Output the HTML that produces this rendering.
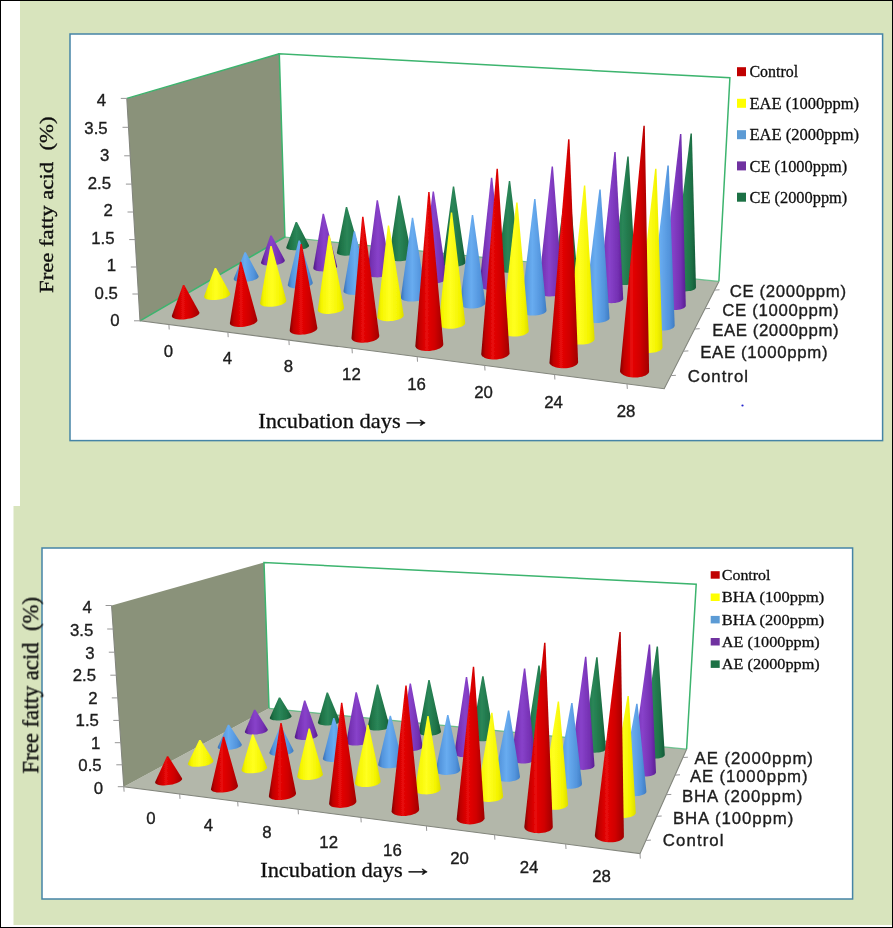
<!DOCTYPE html>
<html><head><meta charset="utf-8"><title>Free fatty acid charts</title>
<style>
html,body{margin:0;padding:0;background:#fff;}
svg{display:block}
.cal{font-family:"Liberation Sans",sans-serif;font-size:16.8px;fill:#1c1c1c;stroke:#1c1c1c;stroke-width:0.35px}
.tim{font-family:"Liberation Serif",serif;fill:#111;stroke:#111;stroke-width:0.3px}
</style></head><body>
<svg width="893" height="928" viewBox="0 0 893 928">
<defs><linearGradient id="gred" x1="0" y1="0" x2="1" y2="0"><stop offset="0" stop-color="#800000"/><stop offset="0.14" stop-color="#c00000"/><stop offset="0.4" stop-color="#e80808"/><stop offset="0.7" stop-color="#d00000"/><stop offset="1" stop-color="#a00000"/></linearGradient><linearGradient id="gyel" x1="0" y1="0" x2="1" y2="0"><stop offset="0" stop-color="#d8d800"/><stop offset="0.15" stop-color="#f6f600"/><stop offset="0.45" stop-color="#ffff20"/><stop offset="0.8" stop-color="#f4f400"/><stop offset="1" stop-color="#dcdc00"/></linearGradient><linearGradient id="gblu" x1="0" y1="0" x2="1" y2="0"><stop offset="0" stop-color="#3a70b4"/><stop offset="0.16" stop-color="#5394dc"/><stop offset="0.45" stop-color="#68acf0"/><stop offset="0.8" stop-color="#5394dc"/><stop offset="1" stop-color="#3f7cc2"/></linearGradient><linearGradient id="gpur" x1="0" y1="0" x2="1" y2="0"><stop offset="0" stop-color="#4c1880"/><stop offset="0.16" stop-color="#7430b2"/><stop offset="0.45" stop-color="#8842ca"/><stop offset="0.8" stop-color="#7430b2"/><stop offset="1" stop-color="#5a2092"/></linearGradient><linearGradient id="ggrn" x1="0" y1="0" x2="1" y2="0"><stop offset="0" stop-color="#0f5030"/><stop offset="0.16" stop-color="#1e7246"/><stop offset="0.45" stop-color="#2a8658"/><stop offset="0.8" stop-color="#1e7246"/><stop offset="1" stop-color="#145a38"/></linearGradient></defs>
<filter id="soft" x="0" y="0" width="100%" height="100%" filterUnits="userSpaceOnUse"><feGaussianBlur stdDeviation="0.45"/></filter>
<rect x="0" y="0" width="893" height="928" fill="#000"/>
<rect x="1" y="1" width="891" height="926" fill="#fff"/>
<rect x="20" y="1" width="872" height="506" fill="#d8e4bd"/>
<rect x="13.5" y="506" width="878.5" height="419" fill="#d8e4bd"/>
<rect x="70" y="34" width="812.6" height="406.6" fill="#fff" stroke="#4584a6" stroke-width="1.5"/>
<rect x="42" y="548" width="810.6" height="351" fill="#fff" stroke="#4584a6" stroke-width="1.5"/>
<g id="chart-top" filter="url(#soft)">
<polygon points="284.9,237.0 279.3,53.8 729.9,77.8 718.9,281.4" fill="#fff"/>
<polygon points="140.0,320.8 664.2,388.7 718.9,281.4 284.9,237.0" fill="#b3b7aa"/>
<polygon points="140.0,320.8 126.8,98.4 279.3,53.8 284.9,237.0" fill="#8a927a"/>
<polyline points="126.8,98.4 279.3,53.8" fill="none" stroke="#3cb46e" stroke-width="1.5"/>
<polyline points="140.0,320.8 284.9,237.0 279.3,53.8 729.9,77.8 718.9,281.4" fill="none" stroke="#3cb46e" stroke-width="1.5"/>
<polyline points="284.9,237.0 718.9,281.4" fill="none" stroke="#3cb46e" stroke-width="1.2" opacity="0.7"/>
<polyline points="126.8,98.4 140.0,320.8 664.2,388.7 718.9,281.4" fill="none" stroke="#83867d" stroke-width="1.1"/>
<line x1="134.0" y1="320.8" x2="140.0" y2="320.8" stroke="#969696" stroke-width="1"/>
<text class="cal" text-anchor="end" transform="translate(119.6,326.4) scale(1,1)">0</text>
<line x1="132.4" y1="294.0" x2="138.4" y2="294.0" stroke="#969696" stroke-width="1"/>
<text class="cal" text-anchor="end" transform="translate(117.9,298.9) scale(1,1)">0.5</text>
<line x1="130.8" y1="267.0" x2="136.8" y2="267.0" stroke="#969696" stroke-width="1"/>
<text class="cal" text-anchor="end" transform="translate(116.2,271.3) scale(1,1)">1</text>
<line x1="129.2" y1="239.6" x2="135.2" y2="239.6" stroke="#969696" stroke-width="1"/>
<text class="cal" text-anchor="end" transform="translate(114.5,243.8) scale(1,1)">1.5</text>
<line x1="127.5" y1="212.0" x2="133.5" y2="212.0" stroke="#969696" stroke-width="1"/>
<text class="cal" text-anchor="end" transform="translate(112.8,216.3) scale(1,1)">2</text>
<line x1="125.9" y1="184.1" x2="131.9" y2="184.1" stroke="#969696" stroke-width="1"/>
<text class="cal" text-anchor="end" transform="translate(111.1,188.7) scale(1,1)">2.5</text>
<line x1="124.2" y1="155.8" x2="130.2" y2="155.8" stroke="#969696" stroke-width="1"/>
<text class="cal" text-anchor="end" transform="translate(109.4,161.2) scale(1,1)">3</text>
<line x1="122.5" y1="127.3" x2="128.5" y2="127.3" stroke="#969696" stroke-width="1"/>
<text class="cal" text-anchor="end" transform="translate(107.7,133.6) scale(1,1)">3.5</text>
<line x1="120.8" y1="98.4" x2="126.8" y2="98.4" stroke="#969696" stroke-width="1"/>
<text class="cal" text-anchor="end" transform="translate(106.0,106.1) scale(1,1)">4</text>
<line x1="168.9" y1="324.5" x2="169.2" y2="329.5" stroke="#969696" stroke-width="1"/>
<line x1="227.9" y1="332.2" x2="228.2" y2="337.2" stroke="#969696" stroke-width="1"/>
<line x1="288.9" y1="340.1" x2="289.2" y2="345.1" stroke="#969696" stroke-width="1"/>
<line x1="352.0" y1="348.3" x2="352.3" y2="353.3" stroke="#969696" stroke-width="1"/>
<line x1="417.2" y1="356.7" x2="417.5" y2="361.7" stroke="#969696" stroke-width="1"/>
<line x1="484.7" y1="365.5" x2="485.0" y2="370.5" stroke="#969696" stroke-width="1"/>
<line x1="554.6" y1="374.5" x2="554.9" y2="379.5" stroke="#969696" stroke-width="1"/>
<line x1="627.0" y1="383.9" x2="627.3" y2="388.9" stroke="#969696" stroke-width="1"/>
<line x1="670.9" y1="375.6" x2="675.9" y2="375.3" stroke="#969696" stroke-width="1"/>
<line x1="683.4" y1="351.2" x2="688.4" y2="350.9" stroke="#969696" stroke-width="1"/>
<line x1="694.7" y1="329.0" x2="699.7" y2="328.7" stroke="#969696" stroke-width="1"/>
<line x1="705.0" y1="308.7" x2="710.0" y2="308.4" stroke="#969696" stroke-width="1"/>
<line x1="714.5" y1="290.1" x2="719.5" y2="289.8" stroke="#969696" stroke-width="1"/>
<text class="cal" text-anchor="middle" transform="translate(168.5,357.4) scale(1,1)">0</text>
<text class="cal" text-anchor="middle" transform="translate(227.4,363.9) scale(1,1)">4</text>
<text class="cal" text-anchor="middle" transform="translate(288.5,372.0) scale(1,1)">8</text>
<text class="cal" text-anchor="middle" transform="translate(351.4,380.2) scale(1,1)">12</text>
<text class="cal" text-anchor="middle" transform="translate(416.6,389.5) scale(1,1)">16</text>
<text class="cal" text-anchor="middle" transform="translate(483.6,398.2) scale(1,1)">20</text>
<text class="cal" text-anchor="middle" transform="translate(553.5,407.5) scale(1,1)">24</text>
<text class="cal" text-anchor="middle" transform="translate(626.0,417.4) scale(1,1)">28</text>
<text class="cal" transform="translate(687.8,381.6) scale(1,1)" textLength="60.2" lengthAdjust="spacing">Control</text>
<text class="cal" transform="translate(700.2,358.2) scale(1,1)" textLength="127.3" lengthAdjust="spacing">EAE (1000ppm)</text>
<text class="cal" transform="translate(712.2,336.0) scale(1,1)" textLength="126.4" lengthAdjust="spacing">EAE (2000ppm)</text>
<text class="cal" transform="translate(722.3,315.8) scale(1,1)" textLength="116.3" lengthAdjust="spacing">CE (1000ppm)</text>
<text class="cal" transform="translate(729.7,296.6) scale(1,1)" textLength="116.3" lengthAdjust="spacing">CE (2000ppm)</text>
<path d="M286.3 247.3 L295.6 222.1 L297.0 222.1 L309.0 245.3 L309.0 245.9 L308.8 246.5 L308.3 247.0 L307.5 247.6 L306.5 248.2 L305.2 248.7 L303.8 249.1 L302.2 249.5 L300.5 249.8 L298.7 250.1 L296.9 250.2 L295.1 250.3 L293.4 250.3 L291.8 250.1 L290.3 249.9 L289.0 249.6 L288.0 249.3 L287.1 248.8 L286.6 248.4 L286.3 247.8Z" fill="url(#ggrn)"/>
<path d="M336.9 252.6 L345.8 207.0 L347.2 207.0 L359.7 250.6 L359.8 251.2 L359.6 251.8 L359.2 252.3 L358.5 252.9 L357.5 253.5 L356.3 254.0 L354.9 254.5 L353.4 254.9 L351.7 255.2 L349.9 255.5 L348.1 255.6 L346.3 255.7 L344.5 255.7 L342.9 255.5 L341.4 255.3 L340.0 255.0 L338.9 254.6 L338.0 254.2 L337.4 253.7 L337.0 253.2Z" fill="url(#ggrn)"/>
<path d="M388.9 258.0 L398.3 195.4 L399.7 195.4 L411.9 256.6 L411.9 257.2 L411.5 257.8 L410.8 258.4 L409.9 259.0 L408.8 259.5 L407.4 260.0 L405.9 260.4 L404.3 260.7 L402.5 261.0 L400.7 261.2 L398.9 261.2 L397.1 261.2 L395.4 261.1 L393.8 260.9 L392.4 260.5 L391.2 260.2 L390.3 259.7 L389.5 259.2 L389.1 258.6Z" fill="url(#ggrn)"/>
<path d="M442.4 263.7 L442.5 263.0 L452.8 186.5 L454.2 186.5 L465.5 262.2 L465.5 262.8 L465.2 263.4 L464.7 264.0 L463.8 264.6 L462.7 265.2 L461.4 265.6 L460.0 266.1 L458.3 266.4 L456.6 266.7 L454.8 266.9 L452.9 266.9 L451.1 266.9 L449.4 266.8 L447.8 266.5 L446.3 266.2 L445.0 265.8 L444.0 265.4 L443.2 264.8 L442.7 264.3Z" fill="url(#ggrn)"/>
<path d="M497.4 268.8 L508.8 181.1 L510.2 181.1 L520.7 268.5 L520.5 269.2 L520.0 269.8 L519.2 270.4 L518.2 271.0 L517.0 271.5 L515.5 271.9 L513.9 272.3 L512.2 272.5 L510.3 272.7 L508.5 272.8 L506.7 272.8 L504.9 272.6 L503.2 272.4 L501.7 272.1 L500.3 271.7 L499.2 271.2 L498.3 270.6 L497.7 270.0 L497.4 269.4Z" fill="url(#ggrn)"/>
<path d="M553.8 274.7 L567.3 175.6 L568.7 175.6 L577.4 274.4 L577.3 275.1 L576.9 275.7 L576.2 276.4 L575.3 276.9 L574.1 277.5 L572.7 277.9 L571.1 278.3 L569.4 278.6 L567.5 278.7 L565.7 278.8 L563.8 278.8 L562.0 278.7 L560.3 278.4 L558.7 278.1 L557.2 277.7 L556.0 277.2 L555.1 276.6 L554.4 276.0 L553.9 275.4Z" fill="url(#ggrn)"/>
<path d="M611.9 280.8 L612.0 280.1 L627.3 156.5 L628.7 156.5 L635.8 280.5 L635.8 281.2 L635.5 281.9 L634.9 282.5 L634.0 283.1 L632.9 283.6 L631.5 284.1 L629.9 284.5 L628.2 284.8 L626.4 284.9 L624.5 285.0 L622.6 285.0 L620.8 284.9 L619.0 284.6 L617.3 284.3 L615.8 283.8 L614.5 283.3 L613.5 282.7 L612.7 282.1 L612.1 281.5Z" fill="url(#ggrn)"/>
<path d="M671.7 286.3 L690.5 133.4 L691.9 133.4 L696.0 287.5 L695.8 288.1 L695.3 288.8 L694.5 289.4 L693.4 290.0 L692.1 290.5 L690.5 290.9 L688.9 291.1 L687.0 291.3 L685.1 291.4 L683.2 291.4 L681.3 291.2 L679.4 291.0 L677.7 290.6 L676.1 290.2 L674.7 289.7 L673.6 289.1 L672.7 288.4 L672.0 287.7 L671.7 287.0Z" fill="url(#ggrn)"/>
<path d="M261.0 262.9 L261.1 262.3 L270.3 235.4 L271.7 235.4 L284.5 259.6 L284.8 260.2 L284.8 260.8 L284.5 261.4 L283.9 262.0 L283.1 262.7 L282.0 263.2 L280.7 263.8 L279.2 264.3 L277.5 264.7 L275.7 265.0 L273.8 265.3 L271.9 265.5 L270.1 265.5 L268.3 265.5 L266.6 265.4 L265.1 265.2 L263.8 264.9 L262.7 264.5 L261.8 264.0 L261.3 263.5Z" fill="url(#gpur)"/>
<path d="M313.3 268.0 L322.6 213.7 L324.0 213.7 L337.1 265.9 L337.2 266.5 L337.0 267.1 L336.5 267.8 L335.7 268.4 L334.7 269.0 L333.4 269.6 L332.0 270.1 L330.3 270.5 L328.5 270.9 L326.7 271.1 L324.8 271.3 L322.9 271.4 L321.1 271.3 L319.4 271.2 L317.8 271.0 L316.4 270.7 L315.3 270.3 L314.4 269.8 L313.7 269.2 L313.4 268.6Z" fill="url(#gpur)"/>
<path d="M367.1 273.9 L376.6 200.3 L378.0 200.3 L391.1 272.3 L391.0 273.0 L390.6 273.7 L389.9 274.3 L388.9 274.9 L387.7 275.5 L386.3 276.0 L384.7 276.5 L382.9 276.8 L381.1 277.1 L379.2 277.3 L377.3 277.4 L375.4 277.3 L373.7 277.2 L372.1 277.0 L370.6 276.6 L369.4 276.2 L368.4 275.7 L367.7 275.2 L367.3 274.6Z" fill="url(#gpur)"/>
<path d="M422.5 280.0 L422.5 279.3 L432.6 191.4 L434.0 191.4 L446.6 278.4 L446.6 279.0 L446.2 279.7 L445.6 280.4 L444.7 281.0 L443.5 281.6 L442.2 282.1 L440.6 282.6 L438.9 283.0 L437.0 283.3 L435.1 283.5 L433.2 283.5 L431.3 283.5 L429.5 283.4 L427.9 283.1 L426.4 282.8 L425.1 282.3 L424.0 281.8 L423.2 281.3 L422.7 280.6Z" fill="url(#gpur)"/>
<path d="M479.4 285.5 L490.9 177.8 L492.3 177.8 L503.7 284.6 L503.7 285.3 L503.5 285.9 L502.9 286.6 L502.1 287.3 L501.0 287.9 L499.7 288.5 L498.2 288.9 L496.5 289.3 L494.7 289.6 L492.8 289.8 L490.8 289.9 L488.9 289.9 L487.1 289.7 L485.3 289.5 L483.8 289.1 L482.4 288.7 L481.2 288.1 L480.3 287.6 L479.7 286.9 L479.4 286.2Z" fill="url(#gpur)"/>
<path d="M538.0 291.9 L551.6 166.6 L553.0 166.6 L562.6 291.7 L562.5 292.4 L562.0 293.1 L561.3 293.8 L560.2 294.4 L559.0 295.0 L557.5 295.4 L555.8 295.9 L554.0 296.2 L552.1 296.3 L550.2 296.4 L548.2 296.4 L546.3 296.2 L544.5 296.0 L542.9 295.6 L541.4 295.2 L540.2 294.6 L539.2 294.0 L538.5 293.4 L538.1 292.7Z" fill="url(#gpur)"/>
<path d="M598.3 298.6 L614.3 152.0 L615.7 152.0 L623.2 298.2 L623.2 299.0 L622.8 299.7 L622.2 300.4 L621.2 301.1 L620.0 301.7 L618.6 302.2 L617.0 302.6 L615.2 302.9 L613.3 303.1 L611.3 303.2 L609.3 303.1 L607.4 303.0 L605.5 302.7 L603.8 302.3 L602.3 301.9 L600.9 301.3 L599.8 300.7 L599.0 300.0 L598.5 299.3Z" fill="url(#gpur)"/>
<path d="M660.4 304.6 L680.0 134.1 L681.4 134.1 L685.8 305.8 L685.6 306.6 L685.0 307.3 L684.1 308.0 L683.0 308.6 L681.6 309.1 L680.0 309.5 L678.2 309.8 L676.3 310.0 L674.4 310.1 L672.3 310.1 L670.3 309.9 L668.4 309.7 L666.6 309.3 L665.0 308.8 L663.5 308.2 L662.3 307.6 L661.4 306.9 L660.8 306.1 L660.5 305.4Z" fill="url(#gpur)"/>
<path d="M233.7 279.2 L233.8 278.5 L244.5 252.2 L245.9 252.2 L258.4 275.7 L258.6 276.3 L258.6 276.9 L258.3 277.6 L257.6 278.3 L256.7 278.9 L255.5 279.6 L254.1 280.1 L252.5 280.7 L250.7 281.1 L248.8 281.5 L246.9 281.8 L244.9 282.0 L242.9 282.1 L241.1 282.0 L239.3 281.9 L237.8 281.6 L236.4 281.3 L235.3 280.9 L234.5 280.4 L234.0 279.8Z" fill="url(#gblu)"/>
<path d="M287.8 284.7 L298.5 240.6 L299.9 240.6 L312.7 282.4 L312.8 283.1 L312.5 283.8 L312.0 284.5 L311.1 285.1 L310.0 285.8 L308.7 286.4 L307.1 286.9 L305.3 287.4 L303.5 287.8 L301.5 288.1 L299.5 288.3 L297.6 288.4 L295.7 288.3 L293.9 288.2 L292.3 287.9 L290.9 287.6 L289.7 287.2 L288.8 286.6 L288.2 286.0 L287.8 285.4Z" fill="url(#gblu)"/>
<path d="M343.5 291.1 L353.6 231.2 L355.0 231.2 L368.5 288.7 L368.6 289.4 L368.4 290.1 L367.9 290.8 L367.2 291.5 L366.1 292.2 L364.8 292.8 L363.3 293.4 L361.6 293.9 L359.8 294.3 L357.8 294.6 L355.8 294.8 L353.9 294.9 L351.9 294.8 L350.1 294.7 L348.4 294.4 L347.0 294.1 L345.7 293.6 L344.7 293.1 L344.0 292.5 L343.6 291.8Z" fill="url(#gblu)"/>
<path d="M400.8 297.7 L411.8 217.8 L413.2 217.8 L426.1 295.9 L426.0 296.7 L425.6 297.4 L424.9 298.1 L423.9 298.8 L422.7 299.5 L421.3 300.1 L419.6 300.6 L417.8 301.0 L415.8 301.3 L413.9 301.5 L411.9 301.6 L409.9 301.5 L408.0 301.4 L406.3 301.1 L404.7 300.7 L403.4 300.3 L402.3 299.7 L401.5 299.1 L401.0 298.4Z" fill="url(#gblu)"/>
<path d="M459.9 304.5 L459.9 303.7 L471.8 215.1 L473.2 215.1 L485.3 302.7 L485.3 303.4 L485.0 304.2 L484.4 304.9 L483.5 305.6 L482.4 306.3 L481.0 306.9 L479.3 307.4 L477.6 307.9 L475.6 308.2 L473.7 308.4 L471.6 308.5 L469.6 308.4 L467.7 308.3 L465.9 308.0 L464.3 307.6 L462.9 307.1 L461.7 306.6 L460.8 305.9 L460.2 305.2Z" fill="url(#gblu)"/>
<path d="M520.7 310.7 L534.1 199.1 L535.5 199.1 L546.5 310.4 L546.3 311.2 L545.8 311.9 L545.0 312.7 L543.9 313.4 L542.5 314.0 L541.0 314.5 L539.2 315.0 L537.3 315.3 L535.3 315.5 L533.3 315.6 L531.3 315.6 L529.3 315.4 L527.4 315.1 L525.7 314.7 L524.2 314.2 L522.9 313.6 L521.9 313.0 L521.2 312.3 L520.8 311.5Z" fill="url(#gblu)"/>
<path d="M583.5 317.9 L599.3 189.4 L600.7 189.4 L609.5 317.6 L609.5 318.4 L609.1 319.2 L608.4 319.9 L607.4 320.6 L606.1 321.3 L604.6 321.8 L602.8 322.3 L601.0 322.6 L599.0 322.9 L596.9 322.9 L594.8 322.9 L592.8 322.7 L590.9 322.5 L589.1 322.0 L587.5 321.5 L586.1 320.9 L585.0 320.2 L584.2 319.5 L583.7 318.7Z" fill="url(#gblu)"/>
<path d="M648.2 325.3 L648.2 324.5 L667.4 165.5 L668.8 165.5 L674.7 325.8 L674.4 326.6 L673.8 327.4 L672.9 328.2 L671.7 328.8 L670.2 329.4 L668.5 329.9 L666.7 330.2 L664.7 330.4 L662.6 330.5 L660.5 330.5 L658.4 330.3 L656.4 330.0 L654.5 329.6 L652.8 329.1 L651.3 328.4 L650.1 327.7 L649.2 327.0 L648.5 326.2Z" fill="url(#gblu)"/>
<path d="M204.1 296.8 L204.2 296.1 L214.7 267.9 L216.1 267.9 L230.0 293.0 L230.3 293.7 L230.2 294.4 L229.8 295.1 L229.1 295.8 L228.1 296.6 L226.8 297.2 L225.3 297.9 L223.6 298.5 L221.7 299.0 L219.7 299.4 L217.6 299.7 L215.5 299.9 L213.5 300.0 L211.6 299.9 L209.8 299.8 L208.1 299.5 L206.8 299.2 L205.6 298.7 L204.8 298.1 L204.3 297.5Z" fill="url(#gyel)"/>
<path d="M260.1 303.6 L260.1 302.9 L270.3 246.1 L271.7 246.1 L286.3 300.3 L286.3 301.1 L286.0 301.8 L285.3 302.6 L284.4 303.3 L283.2 304.0 L281.7 304.7 L280.1 305.3 L278.2 305.8 L276.2 306.2 L274.2 306.5 L272.1 306.7 L270.1 306.8 L268.1 306.8 L266.2 306.6 L264.6 306.4 L263.1 306.0 L261.9 305.5 L261.0 304.9 L260.4 304.3Z" fill="url(#gyel)"/>
<path d="M317.8 309.8 L328.5 235.6 L329.9 235.6 L344.0 307.2 L344.1 308.0 L343.9 308.7 L343.3 309.5 L342.5 310.3 L341.4 311.0 L340.0 311.7 L338.3 312.3 L336.5 312.8 L334.6 313.3 L332.5 313.6 L330.5 313.8 L328.4 313.9 L326.4 313.9 L324.5 313.7 L322.7 313.4 L321.2 313.0 L319.9 312.5 L318.9 312.0 L318.2 311.3 L317.8 310.6Z" fill="url(#gyel)"/>
<path d="M377.3 317.0 L387.8 225.6 L389.2 225.6 L403.7 315.1 L403.6 315.9 L403.2 316.7 L402.4 317.5 L401.4 318.2 L400.0 318.9 L398.5 319.6 L396.7 320.1 L394.8 320.6 L392.8 320.9 L390.7 321.1 L388.6 321.2 L386.5 321.2 L384.6 321.0 L382.8 320.7 L381.2 320.3 L379.8 319.8 L378.7 319.2 L377.9 318.5 L377.4 317.8Z" fill="url(#gyel)"/>
<path d="M438.6 324.4 L438.7 323.6 L450.8 212.4 L452.2 212.4 L465.2 322.4 L465.2 323.2 L464.9 324.1 L464.2 324.9 L463.3 325.7 L462.0 326.4 L460.5 327.0 L458.8 327.6 L456.9 328.1 L454.9 328.4 L452.8 328.7 L450.7 328.7 L448.6 328.7 L446.6 328.5 L444.7 328.2 L443.1 327.8 L441.6 327.3 L440.4 326.7 L439.5 326.0 L438.9 325.2Z" fill="url(#gyel)"/>
<path d="M501.9 331.2 L516.2 202.4 L517.6 202.4 L528.8 330.8 L528.6 331.7 L528.1 332.5 L527.2 333.3 L526.0 334.1 L524.6 334.8 L522.9 335.4 L521.1 335.8 L519.1 336.2 L517.0 336.4 L514.9 336.5 L512.7 336.5 L510.7 336.3 L508.7 336.0 L507.0 335.6 L505.4 335.0 L504.1 334.4 L503.1 333.7 L502.4 332.9 L502.0 332.0Z" fill="url(#gyel)"/>
<path d="M567.3 339.1 L583.9 185.6 L585.3 185.6 L594.6 338.7 L594.5 339.6 L594.0 340.4 L593.3 341.3 L592.2 342.1 L590.8 342.8 L589.2 343.4 L587.4 343.9 L585.4 344.2 L583.3 344.5 L581.2 344.6 L579.0 344.5 L576.9 344.4 L574.9 344.0 L573.0 343.6 L571.4 343.0 L569.9 342.4 L568.8 341.6 L568.0 340.8 L567.4 339.9Z" fill="url(#gyel)"/>
<path d="M634.8 347.2 L634.8 346.3 L655.1 168.8 L656.5 168.8 L662.5 346.8 L662.5 347.7 L662.2 348.6 L661.5 349.5 L660.6 350.3 L659.3 351.0 L657.7 351.6 L656.0 352.2 L654.0 352.5 L651.9 352.8 L649.7 352.9 L647.5 352.9 L645.3 352.7 L643.2 352.3 L641.3 351.9 L639.5 351.3 L638.0 350.6 L636.7 349.8 L635.7 349.0 L635.1 348.1Z" fill="url(#gyel)"/>
<path d="M171.8 316.1 L172.0 315.3 L182.9 285.1 L184.3 285.1 L199.2 311.9 L199.4 312.6 L199.3 313.4 L198.8 314.2 L198.0 315.0 L196.9 315.8 L195.5 316.5 L193.9 317.2 L192.0 317.9 L190.0 318.4 L187.9 318.8 L185.7 319.2 L183.6 319.4 L181.4 319.5 L179.4 319.4 L177.5 319.3 L175.9 319.0 L174.5 318.6 L173.3 318.1 L172.5 317.5 L172.0 316.8Z" fill="url(#gred)"/>
<path d="M229.9 323.5 L229.9 322.7 L240.0 261.8 L241.4 261.8 L257.4 319.9 L257.4 320.7 L257.0 321.5 L256.3 322.3 L255.3 323.1 L254.0 323.9 L252.4 324.6 L250.6 325.3 L248.6 325.8 L246.5 326.3 L244.4 326.7 L242.2 326.9 L240.0 327.0 L238.0 326.9 L236.1 326.8 L234.3 326.5 L232.8 326.1 L231.6 325.5 L230.7 324.9 L230.1 324.2Z" fill="url(#gred)"/>
<path d="M289.7 330.3 L300.5 243.9 L301.9 243.9 L317.3 327.4 L317.4 328.2 L317.1 329.0 L316.5 329.9 L315.5 330.7 L314.3 331.5 L312.8 332.3 L311.1 333.0 L309.2 333.5 L307.1 334.0 L304.9 334.4 L302.7 334.6 L300.6 334.7 L298.5 334.7 L296.5 334.5 L294.7 334.2 L293.1 333.8 L291.8 333.2 L290.8 332.6 L290.1 331.9 L289.8 331.1Z" fill="url(#gred)"/>
<path d="M351.5 338.1 L362.1 216.7 L363.5 216.7 L379.3 336.0 L379.1 336.8 L378.6 337.7 L377.8 338.6 L376.7 339.4 L375.2 340.2 L373.6 340.9 L371.7 341.5 L369.6 342.0 L367.5 342.4 L365.3 342.6 L363.1 342.7 L361.0 342.7 L358.9 342.5 L357.1 342.2 L355.4 341.7 L354.0 341.2 L352.9 340.5 L352.1 339.8 L351.6 338.9Z" fill="url(#gred)"/>
<path d="M415.3 346.2 L428.2 192.0 L429.6 192.0 L443.3 344.0 L443.2 344.9 L442.9 345.8 L442.1 346.7 L441.1 347.6 L439.7 348.4 L438.1 349.1 L436.3 349.7 L434.3 350.2 L432.2 350.6 L430.0 350.9 L427.8 351.0 L425.6 350.9 L423.5 350.7 L421.5 350.4 L419.8 349.9 L418.3 349.4 L417.1 348.7 L416.2 347.9 L415.6 347.1Z" fill="url(#gred)"/>
<path d="M481.3 353.6 L496.5 168.8 L497.9 168.8 L509.5 353.2 L509.3 354.2 L508.7 355.1 L507.7 356.0 L506.5 356.8 L504.9 357.6 L503.2 358.2 L501.2 358.7 L499.1 359.1 L496.9 359.4 L494.6 359.5 L492.4 359.5 L490.3 359.3 L488.2 358.9 L486.4 358.5 L484.8 357.9 L483.5 357.1 L482.4 356.4 L481.7 355.5 L481.3 354.6Z" fill="url(#gred)"/>
<path d="M549.5 362.3 L568.1 139.3 L569.5 139.3 L578.1 361.9 L578.0 362.8 L577.5 363.8 L576.7 364.7 L575.5 365.6 L574.1 366.3 L572.3 367.0 L570.4 367.6 L568.3 368.0 L566.1 368.2 L563.9 368.3 L561.6 368.3 L559.4 368.1 L557.3 367.7 L555.3 367.3 L553.6 366.6 L552.2 365.9 L551.0 365.1 L550.1 364.2 L549.6 363.2Z" fill="url(#gred)"/>
<path d="M620.0 371.2 L620.1 370.2 L643.4 125.8 L644.8 125.8 L649.1 370.8 L649.1 371.8 L648.8 372.8 L648.0 373.7 L647.0 374.6 L645.6 375.4 L644.0 376.1 L642.1 376.7 L640.0 377.1 L637.8 377.4 L635.5 377.5 L633.2 377.5 L630.9 377.2 L628.8 376.9 L626.7 376.4 L624.9 375.7 L623.3 375.0 L622.0 374.1 L621.0 373.2 L620.3 372.2Z" fill="url(#gred)"/>
<rect x="737.0" y="67.2" width="9" height="9" fill="#c00000"/>
<text class="tim" font-size="16" x="749.5" y="77.3" textLength="48.6" lengthAdjust="spacingAndGlyphs">Control</text>
<rect x="737.0" y="98.8" width="9" height="9" fill="#ffff00"/>
<text class="tim" font-size="16" x="749.5" y="108.9" textLength="109.5" lengthAdjust="spacingAndGlyphs">EAE (1000ppm)</text>
<rect x="737.0" y="130.2" width="9" height="9" fill="#5b9bd5"/>
<text class="tim" font-size="16" x="749.5" y="140.3" textLength="109.5" lengthAdjust="spacingAndGlyphs">EAE (2000ppm)</text>
<rect x="737.0" y="161.4" width="9" height="9" fill="#7030a0"/>
<text class="tim" font-size="16" x="749.5" y="171.5" textLength="97.8" lengthAdjust="spacingAndGlyphs">CE (1000ppm)</text>
<rect x="737.0" y="192.7" width="9" height="9" fill="#1f7145"/>
<text class="tim" font-size="16" x="749.5" y="202.8" textLength="97.8" lengthAdjust="spacingAndGlyphs">CE (2000ppm)</text>
<text class="tim" font-size="21" x="258.2" y="428" textLength="142.5" lengthAdjust="spacingAndGlyphs">Incubation days</text>
<text class="tim" font-size="21" transform="translate(400.5,426.8) scale(1.47,1.15)">→</text>
<text class="tim" font-size="18" transform="translate(53,293) rotate(-90)" textLength="176.5" lengthAdjust="spacingAndGlyphs">Free fatty acid&#160; (%)</text>
<circle cx="742.5" cy="405.5" r="1.1" fill="#2222cc"/>
</g>
<g id="chart-bottom" filter="url(#soft)">
<polygon points="269.0,708.3 264.0,562.5 696.2,584.2 686.6,749.2" fill="#fff"/>
<polygon points="123.8,786.7 640.0,853.6 686.6,749.2 269.0,708.3" fill="#b3b7aa"/>
<polygon points="123.8,786.7 111.6,605.5 264.0,562.5 269.0,708.3" fill="#8a927a"/>
<polyline points="269.0,708.3 264.0,562.5 696.2,584.2 686.6,749.2" fill="none" stroke="#3cb46e" stroke-width="1.5"/>
<polyline points="269.0,708.3 686.6,749.2" fill="none" stroke="#3cb46e" stroke-width="1.2" opacity="0.7"/>
<polyline points="111.6,605.5 123.8,786.7 640.0,853.6 686.6,749.2" fill="none" stroke="#83867d" stroke-width="1.1"/>
<line x1="117.8" y1="786.7" x2="123.8" y2="786.7" stroke="#969696" stroke-width="1"/>
<text class="cal" text-anchor="end" transform="translate(103.1,793.8) scale(1,1)">0</text>
<line x1="116.3" y1="764.8" x2="122.3" y2="764.8" stroke="#969696" stroke-width="1"/>
<text class="cal" text-anchor="end" transform="translate(101.7,771.2) scale(1,1)">0.5</text>
<line x1="114.8" y1="742.7" x2="120.8" y2="742.7" stroke="#969696" stroke-width="1"/>
<text class="cal" text-anchor="end" transform="translate(100.3,748.7) scale(1,1)">1</text>
<line x1="113.3" y1="720.4" x2="119.3" y2="720.4" stroke="#969696" stroke-width="1"/>
<text class="cal" text-anchor="end" transform="translate(98.9,726.1) scale(1,1)">1.5</text>
<line x1="111.8" y1="697.9" x2="117.8" y2="697.9" stroke="#969696" stroke-width="1"/>
<text class="cal" text-anchor="end" transform="translate(97.5,703.6) scale(1,1)">2</text>
<line x1="110.3" y1="675.2" x2="116.3" y2="675.2" stroke="#969696" stroke-width="1"/>
<text class="cal" text-anchor="end" transform="translate(96.1,681.0) scale(1,1)">2.5</text>
<line x1="108.8" y1="652.2" x2="114.8" y2="652.2" stroke="#969696" stroke-width="1"/>
<text class="cal" text-anchor="end" transform="translate(94.7,658.5) scale(1,1)">3</text>
<line x1="107.2" y1="629.0" x2="113.2" y2="629.0" stroke="#969696" stroke-width="1"/>
<text class="cal" text-anchor="end" transform="translate(93.3,635.9) scale(1,1)">3.5</text>
<line x1="105.6" y1="605.5" x2="111.6" y2="605.5" stroke="#969696" stroke-width="1"/>
<text class="cal" text-anchor="end" transform="translate(91.9,613.4) scale(1,1)">4</text>
<line x1="123.8" y1="786.7" x2="124.1" y2="791.7" stroke="#969696" stroke-width="1"/>
<line x1="179.7" y1="793.9" x2="180.0" y2="798.9" stroke="#969696" stroke-width="1"/>
<line x1="237.7" y1="801.4" x2="238.0" y2="806.4" stroke="#969696" stroke-width="1"/>
<line x1="298.1" y1="809.3" x2="298.4" y2="814.3" stroke="#969696" stroke-width="1"/>
<line x1="360.9" y1="817.4" x2="361.2" y2="822.4" stroke="#969696" stroke-width="1"/>
<line x1="426.4" y1="825.9" x2="426.7" y2="830.9" stroke="#969696" stroke-width="1"/>
<line x1="494.6" y1="834.7" x2="494.9" y2="839.7" stroke="#969696" stroke-width="1"/>
<line x1="565.7" y1="844.0" x2="566.0" y2="849.0" stroke="#969696" stroke-width="1"/>
<line x1="640.0" y1="853.6" x2="640.3" y2="858.6" stroke="#969696" stroke-width="1"/>
<line x1="645.9" y1="840.4" x2="650.9" y2="840.1" stroke="#969696" stroke-width="1"/>
<line x1="656.7" y1="816.3" x2="661.7" y2="816.0" stroke="#969696" stroke-width="1"/>
<line x1="666.3" y1="794.7" x2="671.3" y2="794.4" stroke="#969696" stroke-width="1"/>
<line x1="675.0" y1="775.1" x2="680.0" y2="774.8" stroke="#969696" stroke-width="1"/>
<line x1="682.9" y1="757.5" x2="687.9" y2="757.2" stroke="#969696" stroke-width="1"/>
<text class="cal" text-anchor="middle" transform="translate(151.0,823.5) scale(1,1)">0</text>
<text class="cal" text-anchor="middle" transform="translate(208.4,831.1) scale(1,1)">4</text>
<text class="cal" text-anchor="middle" transform="translate(267.0,838.4) scale(1,1)">8</text>
<text class="cal" text-anchor="middle" transform="translate(328.7,847.5) scale(1,1)">12</text>
<text class="cal" text-anchor="middle" transform="translate(392.4,855.5) scale(1,1)">16</text>
<text class="cal" text-anchor="middle" transform="translate(459.6,863.5) scale(1,1)">20</text>
<text class="cal" text-anchor="middle" transform="translate(529.0,873.1) scale(1,1)">24</text>
<text class="cal" text-anchor="middle" transform="translate(601.5,882.3) scale(1,1)">28</text>
<text class="cal" transform="translate(662.8,846.3) scale(1,1)" textLength="60.7" lengthAdjust="spacing">Control</text>
<text class="cal" transform="translate(672.9,823.5) scale(1,1)" textLength="120.4" lengthAdjust="spacing">BHA (100ppm)</text>
<text class="cal" transform="translate(681.9,802.3) scale(1,1)" textLength="120.4" lengthAdjust="spacing">BHA (200ppm)</text>
<text class="cal" transform="translate(689.9,782.3) scale(1,1)" textLength="117.6" lengthAdjust="spacing">AE (1000ppm)</text>
<text class="cal" transform="translate(694.6,764.2) scale(1,1)" textLength="118.3" lengthAdjust="spacing">AE (2000ppm)</text>
<path d="M269.8 718.2 L269.8 717.7 L278.8 697.4 L280.2 697.4 L291.3 715.5 L291.6 715.9 L291.6 716.4 L291.3 717.0 L290.8 717.5 L290.0 718.0 L289.0 718.5 L287.8 719.0 L286.4 719.4 L284.9 719.8 L283.3 720.1 L281.6 720.3 L279.8 720.4 L278.1 720.5 L276.5 720.5 L274.9 720.3 L273.5 720.2 L272.3 719.9 L271.3 719.6 L270.6 719.2 L270.0 718.7Z" fill="url(#ggrn)"/>
<path d="M317.9 722.6 L326.6 692.6 L328.0 692.6 L339.7 720.7 L339.8 721.3 L339.6 721.8 L339.2 722.3 L338.5 722.9 L337.6 723.4 L336.4 723.9 L335.1 724.3 L333.6 724.7 L331.9 725.0 L330.2 725.2 L328.5 725.4 L326.8 725.4 L325.1 725.4 L323.5 725.3 L322.1 725.1 L320.8 724.8 L319.7 724.5 L318.9 724.1 L318.3 723.6 L318.0 723.1Z" fill="url(#ggrn)"/>
<path d="M367.5 727.6 L376.8 684.4 L378.2 684.4 L389.6 726.2 L389.5 726.8 L389.1 727.3 L388.5 727.9 L387.6 728.4 L386.5 728.9 L385.2 729.4 L383.8 729.8 L382.2 730.1 L380.5 730.3 L378.7 730.5 L377.0 730.5 L375.3 730.5 L373.7 730.4 L372.2 730.2 L370.8 729.9 L369.7 729.5 L368.8 729.1 L368.1 728.6 L367.7 728.1Z" fill="url(#ggrn)"/>
<path d="M418.8 732.8 L418.8 732.2 L428.3 680.0 L429.7 680.0 L441.0 731.4 L441.0 731.9 L440.7 732.5 L440.1 733.1 L439.3 733.6 L438.3 734.1 L437.1 734.6 L435.6 735.0 L434.0 735.3 L432.4 735.6 L430.6 735.7 L428.8 735.8 L427.1 735.8 L425.4 735.6 L423.9 735.4 L422.5 735.1 L421.3 734.8 L420.3 734.3 L419.5 733.9 L419.0 733.3Z" fill="url(#ggrn)"/>
<path d="M471.6 737.5 L482.2 676.2 L483.6 676.2 L494.0 736.7 L494.1 737.3 L493.9 737.9 L493.5 738.4 L492.8 739.0 L491.8 739.5 L490.6 740.0 L489.2 740.4 L487.6 740.8 L486.0 741.0 L484.2 741.2 L482.4 741.2 L480.7 741.2 L478.9 741.1 L477.3 740.9 L475.8 740.6 L474.5 740.2 L473.5 739.7 L472.6 739.2 L472.0 738.7 L471.7 738.1Z" fill="url(#ggrn)"/>
<path d="M526.2 743.0 L538.3 665.6 L539.7 665.6 L549.1 742.7 L549.0 743.4 L548.6 744.0 L548.0 744.6 L547.1 745.1 L545.9 745.6 L544.6 746.0 L543.0 746.4 L541.4 746.6 L539.6 746.8 L537.8 746.9 L536.0 746.8 L534.2 746.7 L532.6 746.5 L531.0 746.2 L529.6 745.8 L528.4 745.3 L527.5 744.8 L526.8 744.2 L526.4 743.6Z" fill="url(#ggrn)"/>
<path d="M582.7 748.7 L582.7 748.1 L596.2 657.2 L597.6 657.2 L605.9 748.4 L605.9 749.1 L605.6 749.7 L605.0 750.3 L604.2 750.9 L603.1 751.4 L601.8 751.8 L600.3 752.2 L598.7 752.4 L596.9 752.6 L595.1 752.7 L593.3 752.7 L591.5 752.5 L589.7 752.3 L588.1 752.0 L586.6 751.6 L585.3 751.1 L584.3 750.5 L583.5 750.0 L582.9 749.3Z" fill="url(#ggrn)"/>
<path d="M641.0 753.9 L656.6 646.6 L658.0 646.6 L664.8 755.0 L664.6 755.6 L664.1 756.2 L663.4 756.8 L662.4 757.4 L661.1 757.8 L659.7 758.2 L658.0 758.5 L656.3 758.6 L654.4 758.7 L652.5 758.7 L650.7 758.6 L648.8 758.3 L647.1 758.0 L645.6 757.6 L644.2 757.1 L643.0 756.5 L642.1 755.9 L641.4 755.2 L641.1 754.6Z" fill="url(#ggrn)"/>
<path d="M244.9 732.1 L244.9 731.6 L254.0 709.8 L255.4 709.8 L267.5 729.1 L267.8 729.6 L267.7 730.2 L267.4 730.7 L266.8 731.3 L266.0 731.9 L264.9 732.4 L263.6 732.9 L262.1 733.4 L260.5 733.8 L258.8 734.1 L257.0 734.4 L255.2 734.5 L253.4 734.6 L251.6 734.6 L250.1 734.4 L248.6 734.2 L247.4 733.9 L246.3 733.6 L245.6 733.1 L245.1 732.7Z" fill="url(#gpur)"/>
<path d="M294.7 736.9 L304.0 700.6 L305.4 700.6 L317.6 734.9 L317.7 735.4 L317.5 736.0 L317.0 736.6 L316.2 737.2 L315.2 737.8 L314.0 738.3 L312.5 738.8 L310.9 739.2 L309.2 739.5 L307.4 739.7 L305.6 739.9 L303.8 740.0 L302.0 739.9 L300.4 739.8 L298.9 739.6 L297.6 739.3 L296.5 738.9 L295.6 738.5 L295.1 738.0 L294.8 737.4Z" fill="url(#gpur)"/>
<path d="M346.2 742.3 L355.5 692.2 L356.9 692.2 L369.2 740.3 L369.3 740.9 L369.2 741.5 L368.8 742.1 L368.1 742.7 L367.1 743.3 L366.0 743.8 L364.6 744.3 L363.0 744.7 L361.3 745.1 L359.5 745.3 L357.7 745.5 L355.9 745.6 L354.1 745.5 L352.4 745.4 L350.9 745.2 L349.5 744.9 L348.3 744.5 L347.4 744.0 L346.7 743.5 L346.3 742.9Z" fill="url(#gpur)"/>
<path d="M399.4 748.0 L399.5 747.4 L409.6 683.4 L411.0 683.4 L422.7 746.5 L422.7 747.1 L422.3 747.7 L421.7 748.4 L420.9 749.0 L419.8 749.5 L418.4 750.0 L416.9 750.5 L415.2 750.8 L413.5 751.1 L411.6 751.3 L409.8 751.3 L408.0 751.3 L406.2 751.2 L404.6 750.9 L403.1 750.6 L401.9 750.2 L400.9 749.7 L400.1 749.2 L399.6 748.6Z" fill="url(#gpur)"/>
<path d="M454.4 753.2 L465.8 676.9 L467.2 676.9 L477.9 752.3 L478.0 752.9 L477.8 753.6 L477.2 754.2 L476.4 754.8 L475.4 755.4 L474.1 755.9 L472.6 756.4 L471.0 756.8 L469.2 757.0 L467.4 757.2 L465.5 757.3 L463.7 757.3 L461.9 757.1 L460.2 756.9 L458.7 756.6 L457.3 756.1 L456.2 755.6 L455.4 755.1 L454.8 754.5 L454.5 753.9Z" fill="url(#gpur)"/>
<path d="M511.3 759.2 L523.9 668.6 L525.3 668.6 L535.2 759.0 L535.1 759.6 L534.7 760.3 L534.0 760.9 L533.0 761.5 L531.8 762.1 L530.4 762.5 L528.8 762.9 L527.0 763.2 L525.2 763.4 L523.3 763.5 L521.4 763.4 L519.5 763.3 L517.8 763.1 L516.2 762.7 L514.7 762.3 L513.5 761.8 L512.5 761.2 L511.8 760.6 L511.4 759.9Z" fill="url(#gpur)"/>
<path d="M570.2 765.5 L570.2 764.8 L585.0 656.7 L586.4 656.7 L594.5 765.2 L594.5 765.9 L594.2 766.6 L593.6 767.3 L592.7 767.9 L591.5 768.4 L590.2 768.9 L588.6 769.3 L586.9 769.6 L585.0 769.8 L583.1 769.9 L581.2 769.8 L579.2 769.7 L577.4 769.4 L575.7 769.1 L574.2 768.6 L572.9 768.1 L571.8 767.5 L571.0 766.9 L570.4 766.2Z" fill="url(#gpur)"/>
<path d="M631.2 771.2 L648.8 644.4 L650.2 644.4 L656.0 772.4 L655.8 773.1 L655.3 773.8 L654.5 774.4 L653.5 775.0 L652.1 775.5 L650.6 775.9 L648.9 776.2 L647.0 776.4 L645.1 776.5 L643.1 776.5 L641.2 776.3 L639.3 776.1 L637.5 775.7 L635.8 775.2 L634.4 774.7 L633.2 774.1 L632.2 773.4 L631.6 772.7 L631.2 772.0Z" fill="url(#gpur)"/>
<path d="M217.7 747.3 L217.8 746.7 L227.8 724.8 L229.2 724.8 L241.6 744.0 L241.8 744.6 L241.7 745.2 L241.4 745.8 L240.7 746.4 L239.8 747.0 L238.6 747.6 L237.2 748.2 L235.6 748.7 L233.9 749.1 L232.0 749.5 L230.1 749.7 L228.2 749.9 L226.3 750.0 L224.6 749.9 L222.9 749.8 L221.4 749.6 L220.1 749.3 L219.1 748.9 L218.3 748.4 L217.8 747.9Z" fill="url(#gblu)"/>
<path d="M269.4 753.1 L269.4 752.5 L280.0 726.4 L281.4 726.4 L293.5 750.3 L293.6 750.9 L293.3 751.6 L292.7 752.2 L291.9 752.8 L290.8 753.5 L289.4 754.0 L287.9 754.5 L286.2 755.0 L284.4 755.4 L282.5 755.6 L280.5 755.8 L278.6 755.9 L276.8 755.9 L275.1 755.7 L273.6 755.5 L272.2 755.2 L271.1 754.7 L270.2 754.3 L269.7 753.7Z" fill="url(#gblu)"/>
<path d="M322.9 758.5 L333.1 717.9 L334.5 717.9 L347.1 756.2 L347.2 756.9 L347.0 757.5 L346.5 758.2 L345.8 758.9 L344.7 759.5 L343.5 760.1 L342.0 760.6 L340.3 761.1 L338.5 761.5 L336.6 761.7 L334.7 761.9 L332.8 762.0 L330.9 762.0 L329.1 761.8 L327.5 761.6 L326.1 761.3 L324.9 760.8 L324.0 760.3 L323.3 759.7 L322.9 759.1Z" fill="url(#gblu)"/>
<path d="M378.2 764.7 L378.3 764.0 L389.6 715.7 L391.0 715.7 L402.7 763.0 L402.6 763.7 L402.2 764.4 L401.6 765.1 L400.6 765.8 L399.4 766.4 L398.0 766.9 L396.4 767.4 L394.6 767.8 L392.7 768.1 L390.8 768.3 L388.8 768.3 L386.9 768.3 L385.1 768.2 L383.5 767.9 L381.9 767.6 L380.7 767.1 L379.6 766.6 L378.9 766.0 L378.4 765.4Z" fill="url(#gblu)"/>
<path d="M435.5 771.1 L435.6 770.4 L447.1 715.1 L448.5 715.1 L460.2 769.4 L460.3 770.1 L460.0 770.8 L459.4 771.5 L458.6 772.2 L457.4 772.9 L456.1 773.4 L454.5 773.9 L452.7 774.3 L450.9 774.6 L448.9 774.8 L447.0 774.9 L445.0 774.9 L443.2 774.7 L441.4 774.5 L439.8 774.1 L438.4 773.7 L437.3 773.1 L436.4 772.5 L435.8 771.8Z" fill="url(#gblu)"/>
<path d="M494.9 777.1 L507.9 710.4 L509.3 710.4 L520.0 776.8 L519.8 777.5 L519.4 778.2 L518.6 779.0 L517.6 779.6 L516.3 780.2 L514.8 780.7 L513.0 781.1 L511.2 781.5 L509.2 781.7 L507.3 781.7 L505.3 781.7 L503.3 781.6 L501.5 781.3 L499.8 780.9 L498.4 780.4 L497.1 779.9 L496.1 779.2 L495.4 778.5 L495.0 777.8Z" fill="url(#gblu)"/>
<path d="M556.4 784.0 L556.5 783.2 L571.2 703.0 L572.6 703.0 L582.0 783.6 L581.9 784.4 L581.6 785.2 L580.9 785.9 L580.0 786.6 L578.8 787.2 L577.3 787.8 L575.6 788.2 L573.8 788.5 L571.8 788.7 L569.8 788.8 L567.8 788.8 L565.8 788.6 L563.9 788.3 L562.1 787.9 L560.5 787.5 L559.2 786.9 L558.0 786.2 L557.2 785.5 L556.7 784.7Z" fill="url(#gblu)"/>
<path d="M620.3 790.3 L636.2 703.7 L637.6 703.7 L646.4 791.6 L646.2 792.4 L645.6 793.2 L644.8 793.9 L643.6 794.5 L642.2 795.1 L640.6 795.5 L638.8 795.9 L636.8 796.1 L634.8 796.2 L632.7 796.1 L630.7 796.0 L628.7 795.7 L626.8 795.3 L625.1 794.8 L623.6 794.1 L622.3 793.5 L621.4 792.7 L620.7 791.9 L620.3 791.1Z" fill="url(#gblu)"/>
<path d="M187.9 763.9 L188.0 763.2 L199.2 740.0 L200.6 740.0 L213.2 760.3 L213.4 760.9 L213.3 761.6 L212.8 762.2 L212.1 762.9 L211.1 763.6 L209.8 764.3 L208.3 764.9 L206.6 765.4 L204.7 765.9 L202.7 766.3 L200.7 766.6 L198.7 766.8 L196.7 766.8 L194.9 766.8 L193.1 766.7 L191.6 766.4 L190.3 766.1 L189.2 765.6 L188.5 765.1 L188.0 764.5Z" fill="url(#gyel)"/>
<path d="M241.6 770.3 L241.7 769.6 L252.0 734.4 L253.4 734.4 L267.1 767.2 L267.1 767.9 L266.7 768.6 L266.1 769.3 L265.1 770.0 L263.9 770.7 L262.5 771.3 L260.8 771.9 L259.0 772.4 L257.1 772.8 L255.1 773.1 L253.0 773.3 L251.0 773.3 L249.1 773.3 L247.3 773.2 L245.7 772.9 L244.4 772.5 L243.2 772.1 L242.4 771.6 L241.8 770.9Z" fill="url(#gyel)"/>
<path d="M297.2 776.2 L308.5 728.4 L309.9 728.4 L322.8 773.7 L322.9 774.4 L322.6 775.2 L322.1 775.9 L321.2 776.6 L320.1 777.3 L318.7 778.0 L317.1 778.6 L315.3 779.1 L313.4 779.5 L311.4 779.8 L309.4 780.0 L307.4 780.1 L305.4 780.1 L303.6 779.9 L301.9 779.6 L300.4 779.3 L299.2 778.8 L298.3 778.2 L297.6 777.6 L297.3 776.9Z" fill="url(#gyel)"/>
<path d="M354.9 783.1 L367.2 724.7 L368.6 724.7 L380.7 781.2 L380.6 782.0 L380.1 782.8 L379.4 783.5 L378.3 784.2 L377.0 784.9 L375.5 785.5 L373.8 786.1 L371.9 786.5 L369.9 786.8 L367.9 787.0 L365.8 787.1 L363.8 787.1 L361.9 786.9 L360.2 786.6 L358.6 786.2 L357.3 785.8 L356.2 785.2 L355.5 784.5 L355.0 783.8Z" fill="url(#gyel)"/>
<path d="M414.7 790.2 L414.8 789.4 L427.3 716.1 L428.7 716.1 L440.7 788.3 L440.7 789.1 L440.4 789.9 L439.8 790.6 L438.8 791.4 L437.6 792.1 L436.1 792.7 L434.4 793.3 L432.6 793.7 L430.6 794.1 L428.6 794.3 L426.5 794.4 L424.4 794.3 L422.5 794.2 L420.7 793.9 L419.0 793.5 L417.6 793.0 L416.4 792.4 L415.5 791.7 L415.0 791.0Z" fill="url(#gyel)"/>
<path d="M476.8 796.8 L491.1 712.7 L492.5 712.7 L503.2 796.4 L503.0 797.2 L502.5 798.1 L501.6 798.8 L500.5 799.6 L499.1 800.2 L497.5 800.8 L495.7 801.3 L493.7 801.6 L491.7 801.8 L489.6 801.9 L487.5 801.9 L485.4 801.7 L483.5 801.4 L481.8 801.0 L480.2 800.5 L479.0 799.9 L477.9 799.1 L477.2 798.4 L476.8 797.6Z" fill="url(#gyel)"/>
<path d="M541.2 804.4 L541.4 803.6 L557.7 701.4 L559.1 701.4 L568.1 804.1 L568.1 804.9 L567.7 805.8 L567.0 806.6 L565.9 807.3 L564.6 808.0 L563.0 808.6 L561.3 809.1 L559.3 809.5 L557.3 809.7 L555.1 809.8 L553.0 809.8 L550.9 809.6 L548.9 809.3 L547.0 808.8 L545.4 808.3 L544.0 807.6 L542.8 806.9 L542.0 806.1 L541.4 805.3Z" fill="url(#gyel)"/>
<path d="M608.3 811.5 L627.5 695.9 L628.9 695.9 L635.8 812.9 L635.5 813.8 L634.9 814.6 L634.0 815.4 L632.8 816.1 L631.3 816.8 L629.5 817.3 L627.6 817.6 L625.5 817.9 L623.4 818.0 L621.2 817.9 L619.0 817.7 L616.9 817.4 L615.0 817.0 L613.2 816.4 L611.6 815.7 L610.3 815.0 L609.3 814.1 L608.6 813.3 L608.3 812.4Z" fill="url(#gyel)"/>
<path d="M155.1 782.1 L155.4 781.4 L166.9 756.2 L168.3 756.2 L182.0 778.2 L182.2 778.9 L182.0 779.6 L181.4 780.3 L180.6 781.1 L179.5 781.8 L178.1 782.6 L176.4 783.2 L174.6 783.8 L172.6 784.4 L170.5 784.8 L168.3 785.1 L166.2 785.3 L164.1 785.4 L162.2 785.4 L160.4 785.2 L158.8 784.9 L157.4 784.6 L156.4 784.1 L155.6 783.5 L155.2 782.8Z" fill="url(#gred)"/>
<path d="M210.9 789.2 L211.1 788.5 L222.9 736.7 L224.3 736.7 L238.0 785.8 L237.9 786.6 L237.5 787.3 L236.8 788.1 L235.7 788.9 L234.4 789.7 L232.8 790.4 L231.0 791.0 L229.1 791.5 L227.0 792.0 L224.9 792.3 L222.7 792.5 L220.6 792.6 L218.6 792.6 L216.7 792.4 L215.1 792.1 L213.7 791.7 L212.5 791.2 L211.7 790.6 L211.1 790.0Z" fill="url(#gred)"/>
<path d="M268.9 796.6 L268.9 795.8 L280.3 723.0 L281.7 723.0 L296.0 793.0 L296.0 793.8 L295.7 794.6 L295.1 795.4 L294.1 796.3 L292.9 797.0 L291.4 797.7 L289.7 798.4 L287.8 799.0 L285.7 799.4 L283.6 799.8 L281.4 800.0 L279.3 800.1 L277.2 800.0 L275.3 799.9 L273.6 799.6 L272.1 799.2 L270.8 798.6 L269.9 798.0 L269.2 797.3Z" fill="url(#gred)"/>
<path d="M329.1 803.4 L341.0 702.7 L342.4 702.7 L356.4 801.3 L356.2 802.2 L355.7 803.0 L354.8 803.9 L353.7 804.7 L352.3 805.4 L350.6 806.1 L348.8 806.7 L346.8 807.2 L344.6 807.5 L342.5 807.8 L340.3 807.9 L338.2 807.8 L336.2 807.6 L334.4 807.3 L332.8 806.9 L331.4 806.4 L330.4 805.7 L329.6 805.0 L329.2 804.2Z" fill="url(#gred)"/>
<path d="M391.6 811.3 L405.3 685.4 L406.7 685.4 L419.2 809.2 L419.1 810.1 L418.7 810.9 L418.0 811.8 L417.0 812.6 L415.6 813.4 L414.0 814.1 L412.2 814.7 L410.3 815.2 L408.1 815.6 L406.0 815.9 L403.8 816.0 L401.6 815.9 L399.6 815.7 L397.7 815.4 L396.0 815.0 L394.5 814.4 L393.3 813.7 L392.4 813.0 L391.8 812.2Z" fill="url(#gred)"/>
<path d="M456.7 818.6 L472.8 666.7 L474.2 666.7 L484.6 818.2 L484.3 819.2 L483.7 820.1 L482.8 820.9 L481.6 821.7 L480.1 822.5 L478.3 823.1 L476.4 823.6 L474.3 824.0 L472.1 824.3 L469.9 824.4 L467.7 824.3 L465.5 824.1 L463.5 823.8 L461.7 823.3 L460.1 822.7 L458.8 822.1 L457.8 821.3 L457.1 820.4 L456.7 819.5Z" fill="url(#gred)"/>
<path d="M524.3 827.1 L544.1 642.8 L545.5 642.8 L552.8 826.8 L552.6 827.7 L552.2 828.7 L551.4 829.6 L550.3 830.4 L548.9 831.2 L547.2 831.8 L545.3 832.4 L543.2 832.8 L541.0 833.0 L538.8 833.2 L536.5 833.1 L534.3 832.9 L532.2 832.6 L530.3 832.1 L528.5 831.5 L527.1 830.7 L525.9 829.9 L525.0 829.0 L524.5 828.1Z" fill="url(#gred)"/>
<path d="M594.9 836.0 L594.9 835.0 L619.4 632.0 L620.8 632.0 L623.9 836.6 L623.6 837.6 L622.9 838.6 L621.9 839.5 L620.6 840.3 L619.0 840.9 L617.2 841.5 L615.1 841.9 L612.9 842.2 L610.6 842.3 L608.3 842.3 L606.0 842.1 L603.8 841.7 L601.8 841.2 L599.9 840.5 L598.3 839.8 L596.9 838.9 L595.9 838.0 L595.2 837.0Z" fill="url(#gred)"/>
<rect x="710.7" y="571.2" width="9" height="7.5" fill="#c00000"/>
<text class="tim" font-size="15.3" x="721.8" y="580.0" textLength="48.7" lengthAdjust="spacingAndGlyphs">Control</text>
<rect x="710.7" y="593.5" width="9" height="7.5" fill="#ffff00"/>
<text class="tim" font-size="15.3" x="721.8" y="602.3" textLength="102.5" lengthAdjust="spacingAndGlyphs">BHA (100ppm)</text>
<rect x="710.7" y="615.9" width="9" height="7.5" fill="#5b9bd5"/>
<text class="tim" font-size="15.3" x="721.8" y="624.6" textLength="102.5" lengthAdjust="spacingAndGlyphs">BHA (200ppm)</text>
<rect x="710.7" y="638.0" width="9" height="7.5" fill="#7030a0"/>
<text class="tim" font-size="15.3" x="721.8" y="646.8" textLength="97.9" lengthAdjust="spacingAndGlyphs">AE (1000ppm)</text>
<rect x="710.7" y="660.4" width="9" height="7.5" fill="#1f7145"/>
<text class="tim" font-size="15.3" x="721.8" y="669.1" textLength="97.9" lengthAdjust="spacingAndGlyphs">AE (2000ppm)</text>
<text class="tim" font-size="21" x="260.2" y="877.3" textLength="142.5" lengthAdjust="spacingAndGlyphs">Incubation days</text>
<text class="tim" font-size="21" transform="translate(402.5,876.1) scale(1.47,1.15)">→</text>
<text class="tim" font-size="22.5" transform="translate(38.2,773.5) rotate(-90)" textLength="176.5" lengthAdjust="spacingAndGlyphs">Free fatty acid&#160; (%)</text>
</g>
</svg>
</body></html>
